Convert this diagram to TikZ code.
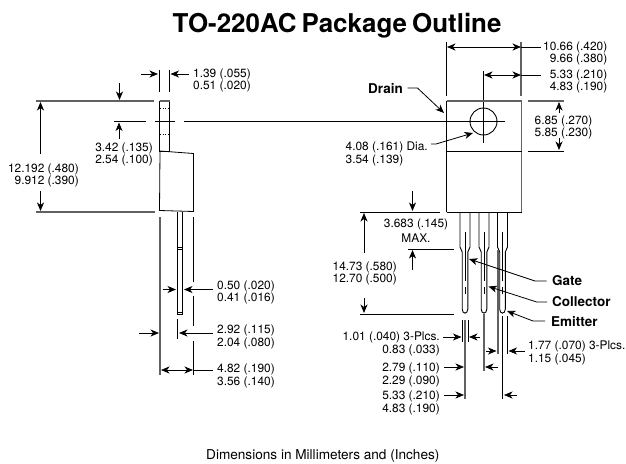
\documentclass[tikz,border=0pt]{standalone}
\usepackage{fontspec}
\setmainfont{TeX Gyre Heros}
\usetikzlibrary{arrows.meta}
\tikzset{
  ln/.style={line width=0.8pt,black},
  gl/.style={line width=1.2pt,black!62},
  dim/.style={line width=0.8pt,black,-{Stealth[length=8.5pt,width=7pt,inset=2.5pt]}},
  dimb/.style={line width=0.8pt,black,{Stealth[length=8.5pt,width=7pt,inset=2.5pt]}-{Stealth[length=8.5pt,width=7pt,inset=2.5pt]}},
  txt/.style={inner sep=0pt,font=\fontsize{11.9}{12.6}\selectfont},
  lblr/.style={txt,align=right,anchor=north east},
  lbll/.style={txt,align=left,anchor=north west},
  lblc/.style={txt,align=center,anchor=north},
  bld/.style={inner sep=0pt,font=\fontsize{13.5}{15}\selectfont\bfseries},
  leadbody/.style={line width=0.9pt,black}
}
\begin{document}
\begin{tikzpicture}[x=1pt,y=-1pt]
\useasboundingbox (0,0) rectangle (626,463);
% title and caption
\node[inner sep=0pt,anchor=base west] (title) at (172.5,32) {\fontsize{25.9}{28}\selectfont\bfseries TO-220AC\hspace{-2pt} Package\hspace{-2pt} Outline};
\node[inner sep=0pt,anchor=base west] (caption) at (206,459) {\fontsize{13.6}{15}\selectfont Dimensions in Millimeters and (Inches)};

% ---- side view
\draw[ln] (159.5,70)--(159.5,92) (169,70)--(169,92);
\draw[dim] (141,74)--(158,74);
\draw[dim] (189,74)--(170.5,74);
\node[lbll] (tw) at (193,68.5) {1.39 (.055)\\0.51 (.020)};
\draw[dim] (119.5,83)--(119.5,100);
\draw[gl] (36,101)--(154,101);
\draw[gl] (36,212)--(155,212);
\draw[ln] (159.5,101) rectangle (169.5,151);
\draw[gl] (159.5,101)--(169.5,101);
\draw[line width=0.6pt,dotted] (160,108)--(169,108) (160,134)--(169,134);
\draw[ln] (160,151)--(193.5,153.5)--(193.5,211.5)--(159.5,210.5)--cycle;
\draw[ln] (114,121.5)--(146,121.5) (155,121.5)--(175,121.5) (184,121.5)--(505,121.5);
\draw[dim] (119,139)--(119,122.5);
\draw[dim] (40.5,154)--(40.5,102);
\draw[dim] (40.5,191)--(40.5,211);
\node[lblr] (a) at (79,163.5) {12.192 (.480)\\9.912 (.390)};
\node[lblr] (b) at (153,142.5) {3.42 (.135)\\2.54 (.100)};
% side view leads
\draw[gl] (160,217)--(160,375);
\draw[ln] (193.5,217)--(193.5,282) (193.5,296)--(193.5,326) (193.5,341)--(193.5,375);
\draw[leadbody] (177.5,212)--(177.5,314)--(182.5,314)--(182.5,212);
\draw[ln] (177.5,247)--(182.5,247) (177.5,249)--(182.5,249) (177.5,312)--(182.5,312);
\draw[dim] (163,289.5)--(176,289.5);
\draw[dim] (213,289.5)--(184,289.5);
\node[lbll] (c) at (217,280.5) {0.50 (.020)\\0.41 (.016)};
\draw[ln] (177.5,319)--(177.5,339);
\draw[dim] (139,333)--(159,333);
\draw[dim] (213,333)--(179,333);
\node[lbll] (d) at (217,325) {2.92 (.115)\\2.04 (.080)};
\draw[dimb] (161,370)--(193,370);
\draw[ln] (193,370)--(213,370);
\node[lbll] (e) at (217,364) {4.82 (.190)\\3.56 (.140)};

% ---- front view
\draw[ln] (446.5,42)--(446.5,96);
\draw[gl] (521,42)--(521,96);
\draw[dimb] (447,47)--(521,47);
\draw[ln] (521,47)--(541,47);
\node[lblr] (f) at (607.5,41.5) {10.66 (.420)\\9.66 (.380)};
\draw[ln] (483.5,71)--(483.5,143);
\draw[dimb] (484,75)--(521,75);
\draw[ln] (521,75)--(541,75);
\node[lblr] (g) at (607.5,69.5) {5.33 (.210)\\4.83 (.190)};
\draw[gl] (446.5,101)--(521.5,101);
\draw[ln] (446.5,101)--(446.5,212);
\draw[gl] (521.5,101)--(521.5,212);
\draw[ln] (446.5,151)--(521.5,151);
\draw[line width=0.9pt] (446.5,212)--(521.5,212);
\draw[gl] (528,101)--(564,101);
\draw[ln] (528,151)--(564,151);
\draw[line width=0.9pt] (483.5,121.5) circle (13.5);
\draw[ln] (476,121.5)--(491,121.5);
\draw[dim] (559,113)--(559,102);
\draw[dim] (559,138)--(559,150);
\node[lbll] (h) at (534.5,115.5) {6.85 (.270)\\5.85 (.230)};
% callouts
\node[bld,anchor=base east] (drain) at (403,93) {Drain};
\coordinate (drainTip) at (444,113);
\draw[dim] (drain.east)++(4.5,0) coordinate (dr0) -- ++(10,0) -- (drainTip);
\node[lbll] (dia) at (345.5,142) {4.08 (.161) Dia.\\3.54 (.139)};
\coordinate (diaTip) at (473,133);
\draw[dim] (431,144)--(436,144)--(diaTip);
% lead dimensions
\draw[dim] (412.5,191)--(412.5,211);
\draw[ln] (360,212)--(440,212);
\node[lblc] (i) at (416,219) {3.683 (.145)\\[2pt]MAX.};
\draw[ln] (408,249)--(454,249);
\draw[dim] (412.5,270)--(412.5,250);
\draw[ln] (360,314)--(454,314);
\draw[dim] (364,253)--(364,213);
\draw[dim] (364,298)--(364,313);
\node[lblr] (j) at (397,261.5) {14.73 (.580)\\12.70 (.500)};
% leads
\foreach \cx in {465,484,502.5}{
  \draw[leadbody] (\cx-5,212)--(\cx-5,247)--(\cx-2.8,252)--(\cx-2.8,309) .. controls (\cx-2.8,314.5) and (\cx+2.8,314.5) .. (\cx+2.8,309)--(\cx+2.8,252)--(\cx+5,247)--(\cx+5,212);
  \draw[line width=0.7pt] (\cx,232)--(\cx,281) (\cx,287)--(\cx,294);
}
\draw[gl] (498,250)--(498,354);
% labels for leads
\node[bld,anchor=base west] (gate) at (552,285.5) {Gate};
\node[bld,anchor=base west] (coll) at (552,306.5) {Collector};
\node[bld,anchor=base west] (emit) at (551,326.5) {Emitter};
\coordinate (gateTip) at (469,259);
\coordinate (collTip) at (488.5,286.5);
\coordinate (emitTip) at (507,311);
\draw[dim] (546.7,281)--(535,281)--(gateTip);
\draw[dim] (547,302)--(536.7,302)--(collTip);
\draw[dim] (545,321)--(533,321)--(emitTip);
% lower dimensions
\draw[ln] (462.3,320)--(462.3,342) (468.3,320)--(468.3,342) ;
\draw[gl] (465,320)--(465,399);
\draw[gl] (484,314)--(484,371);
\draw[ln] (502.7,316)--(502.7,399);
\draw[ln] (507.3,316)--(507.3,354);
\draw[dim] (443,337)--(461.5,337);
\draw[dim] (480,337)--(469,337);
\node[lblr] (k) at (440,332) {1.01 (.040) 3-Plcs.\\0.83 (.033)};
\draw[dim] (486,351)--(496.5,351);
\draw[dim] (525,351)--(508.5,351);
\node[lbll] (l) at (528,341) {1.77 (.070) 3-Plcs.\\1.15 (.045)};
\draw[dim] (444,367)--(464,367);
\draw[dim] (498,367)--(485,367);
\node[lblr] (m) at (440,363) {2.79 (.110)\\2.29 (.090)};
\draw[dim] (444,395)--(464,395);
\draw[dim] (517,395)--(504,395);
\node[lblr] (n) at (440,391) {5.33 (.210)\\4.83 (.190)};
\end{tikzpicture}
\end{document}
